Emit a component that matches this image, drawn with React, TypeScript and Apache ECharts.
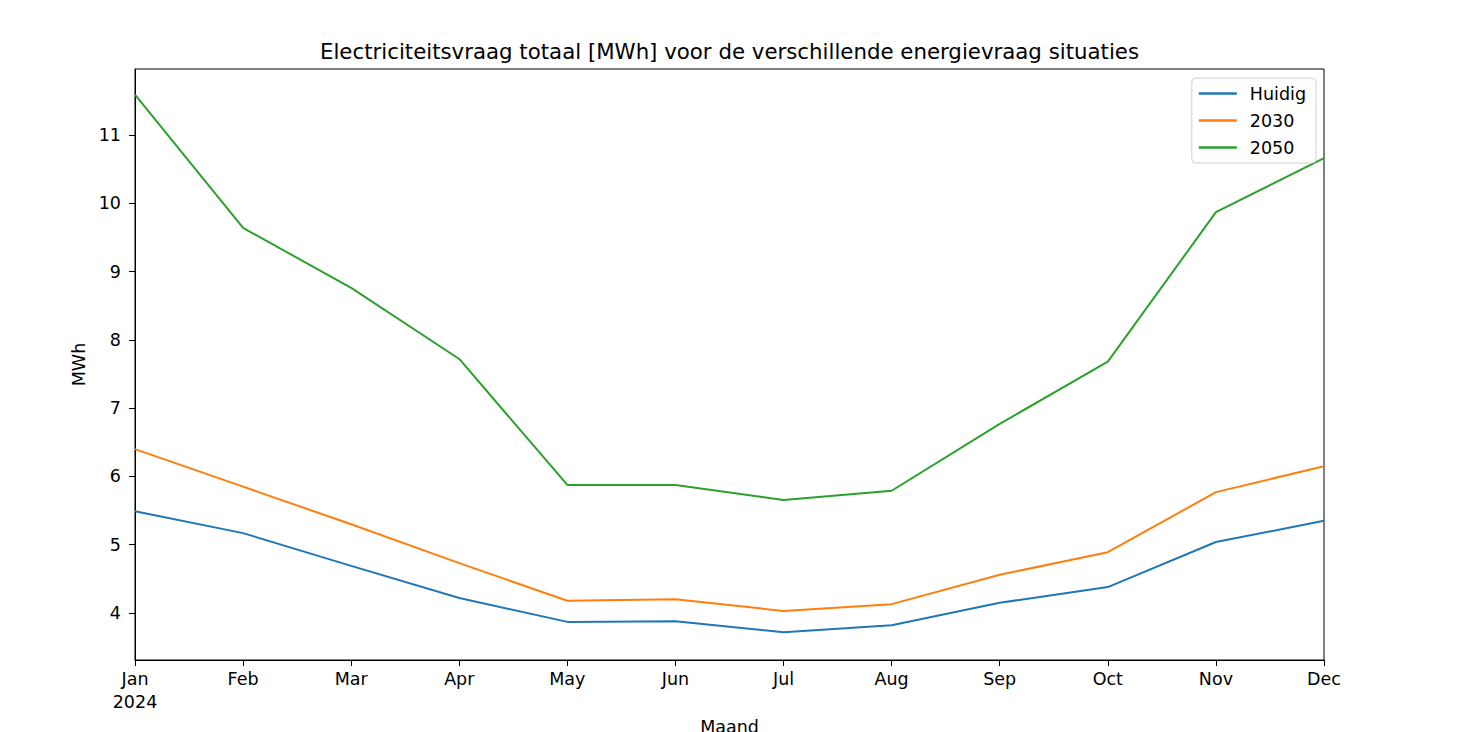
import React, { useEffect, useRef } from "react";
import * as echarts from "echarts";

const months = ["Jan", "Feb", "Mar", "Apr", "May", "Jun", "Jul", "Aug", "Sep", "Oct", "Nov", "Dec"];
const huidig = [5.49, 5.17, 4.69, 4.22, 3.87, 3.88, 3.72, 3.82, 4.15, 4.38, 5.04, 5.35];
const s2030 = [6.4, 5.85, 5.3, 4.73, 4.18, 4.2, 4.03, 4.13, 4.56, 4.89, 5.77, 6.15];
const s2050 = [11.59, 9.64, 8.76, 7.72, 5.875, 5.875, 5.655, 5.79, 6.77, 7.68, 9.87, 10.66];
const yTicks = [4, 5, 6, 7, 8, 9, 10, 11];
const seriesNames = ["Huidig", "2030", "2050"];
const colors = ["#1f77b4", "#ff7f0e", "#2ca02c"];

export default function App() {
  const ref = useRef<HTMLDivElement>(null);
  useEffect(() => {
    if (!ref.current) return;
    const chart = echarts.init(ref.current, null, { renderer: "svg" });
    const font = "DejaVu Sans";
    const fs = 17.5;
    const data = [huidig, s2030, s2050];
    chart.setOption({
      animation: false,
      textStyle: { fontFamily: font },
      graphic: [
        {
          type: "text",
          x: 729.5,
          y: 51,
          style: {
            text: "Electriciteitsvraag totaal [MWh] voor de verschillende energievraag situaties",
            fontFamily: font,
            fontSize: 21.3,
            fill: "#000",
            textAlign: "center",
            textVerticalAlign: "middle",
          },
        },
      ],
      grid: {
        left: 135,
        top: 69,
        width: 1189,
        height: 591,
        show: true,
        borderColor: "#000",
        borderWidth: 1,
        backgroundColor: "transparent",
        outerBoundsMode: "none",
        containLabel: false,
      },
      legend: {
        orient: "vertical",
        right: 1477 - 1316,
        top: 78,
        data: seriesNames,
        icon: "rect",
        backgroundColor: "#fff",
        borderColor: "#d0d0d0",
        borderWidth: 1,
        borderRadius: 4,
        padding: [5, 10, 5, 7],
        itemWidth: 38,
        itemHeight: 2.5,
        itemGap: 6,
        textStyle: { fontFamily: font, fontSize: fs, color: "#000", padding: [0, 0, 0, 8], lineHeight: 21 },
      },
      xAxis: {
        type: "category",
        data: months,
        boundaryGap: false,
        name: "Maand",
        nameLocation: "middle",
        nameGap: 57,
        nameTextStyle: { fontFamily: font, fontSize: fs, color: "#000" },
        axisLine: { show: true, lineStyle: { color: "#000", width: 1 } },
        axisTick: { show: true, inside: false, length: 6, alignWithLabel: true, lineStyle: { color: "#000" } },
        axisLabel: {
          fontFamily: font,
          fontSize: fs,
          color: "#000",
          margin: 7,
          lineHeight: 23,
          formatter: (v: string, i: number) => (i === 0 ? v + "\n2024" : v),
        },
        splitLine: { show: false },
      },
      yAxis: {
        type: "value",
        min: 3.312,
        max: 11.966,
        name: "MWh",
        nameLocation: "middle",
        nameGap: 44,
        nameTextStyle: { fontFamily: font, fontSize: fs, color: "#000" },
        axisLine: { show: true, lineStyle: { color: "#000", width: 1 } },
        axisTick: { show: true, length: 6, customValues: yTicks, lineStyle: { color: "#000" } },
        axisLabel: { fontFamily: font, fontSize: fs, color: "#000", margin: 14, customValues: yTicks },
        splitLine: { show: false },
      },
      series: seriesNames.map((name, i) => ({
        name,
        type: "line",
        data: data[i],
        symbol: "none",
        showSymbol: false,
        lineStyle: { color: colors[i], width: 2 },
        itemStyle: { color: colors[i] },
      })),
    });
    return () => chart.dispose();
  }, []);
  return <div ref={ref} style={{ position: "fixed", left: 0, top: 0, width: 1477, height: 732, background: "#fff" }} />;
}
